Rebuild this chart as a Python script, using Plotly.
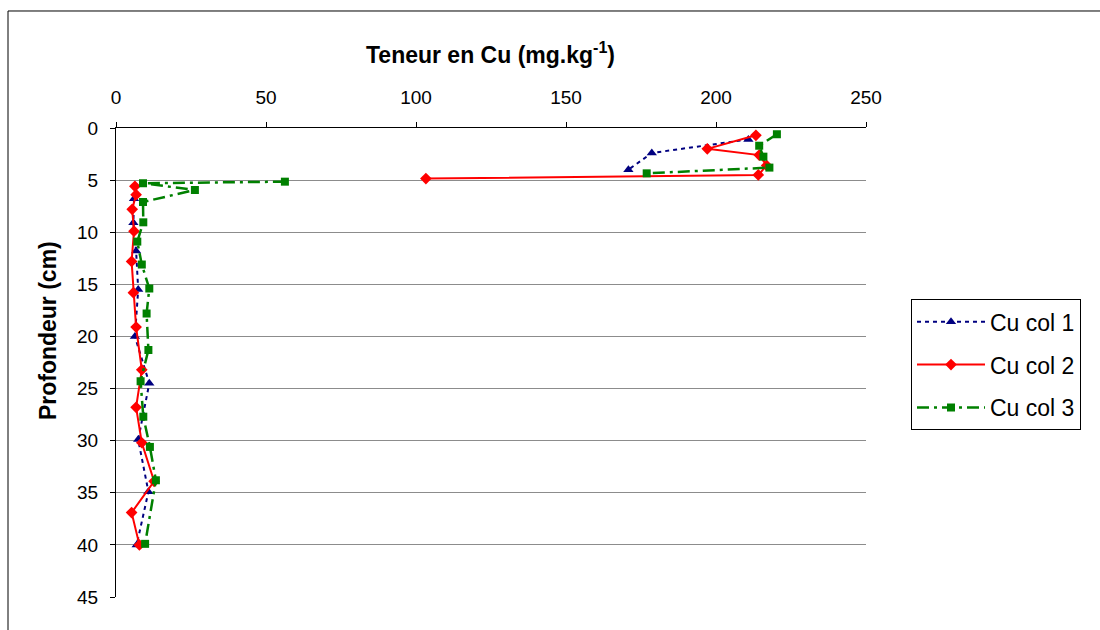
import plotly.graph_objects as go

# Copper content (mg/kg) versus depth (cm) for three soil columns.
# None breaks the line between the surface layer and the deeper profile.
depth_col1 = [1.1, 2.4, 4.0, None, 6.8, 9.1, 11.8, 15.5, 20.0, 24.5, 29.9, 34.9, 40.0]
cu_col1 = [210.8, 178.6, 170.8, None, 6.0, 5.8, 6.7, 7.4, 6.3, 11.1, 7.4, 10.8, 6.9]

depth_col2 = [0.7, 2.0, 2.6, 3.6, 4.5, 4.85, None, 5.6, 6.4, 7.8, 9.9, 12.8, 15.8,
              19.1, 23.2, 26.8, 30.2, 33.9, 36.9, 40.0]
cu_col2 = [213.3, 197.1, 214.4, 216.9, 214.1, 103.3, None, 6.3, 6.7, 5.4, 6.0, 5.2, 5.8,
           6.7, 8.6, 6.7, 8.6, 12.7, 5.2, 7.8]

depth_col3 = [0.6, 1.7, 2.75, 3.8, 4.35, None, 5.15, 5.3, 5.95, 7.1, 9.05, 10.9, 13.1,
              15.4, 17.8, 21.3, 24.3, 27.7, 30.6, 33.8, 39.9]
cu_col3 = [220.3, 214.4, 215.8, 217.8, 176.9, None, 56.3, 9.0, 26.3, 9.0, 9.1, 7.1, 8.6,
           11.1, 10.2, 10.8, 8.2, 9.1, 11.3, 13.3, 9.7]

series_names = ["Cu col 1", "Cu col 2", "Cu col 3"]
x_ticks = [0, 50, 100, 150, 200, 250]
y_ticks = [0, 5, 10, 15, 20, 25, 30, 35, 40, 45]

FONT = "Liberation Sans, Arial, sans-serif"

fig = go.Figure()

fig.add_trace(go.Scatter(
    x=cu_col1, y=depth_col1, name=series_names[0], mode="lines+markers",
    connectgaps=False, legendgroup="a",
    line=dict(color="#000080", width=2, dash="4px,4px"),
    marker=dict(symbol="triangle-up", size=9, color="#000080"),
))
fig.add_trace(go.Scatter(
    x=cu_col2, y=depth_col2, name=series_names[1], mode="lines+markers",
    connectgaps=False, legendgroup="b",
    line=dict(color="#FF0000", width=2),
    marker=dict(symbol="diamond", size=9, color="#FF0000"),
))
fig.add_trace(go.Scatter(
    x=cu_col3, y=depth_col3, name=series_names[2], mode="lines+markers",
    connectgaps=False, legendgroup="c",
    line=dict(color="#008000", width=2.5, dash="12px,5px,3px,5px"),
    marker=dict(symbol="square", size=8, color="#008000"),
))

fig.update_layout(
    width=1100, height=630,
    margin=dict(l=116, r=234, t=128, b=33),
    paper_bgcolor="white", plot_bgcolor="white",
    font=dict(family=FONT, color="black", size=19),
    legend=dict(
        x=1.06, y=0.635, xanchor="left", yanchor="top",
        bordercolor="black", borderwidth=1, bgcolor="white",
        font=dict(family=FONT, size=23, color="black"),
        traceorder="grouped", tracegroupgap=10, itemwidth=68,
    ),
    xaxis=dict(
        side="top", range=[0, 250], tickvals=x_ticks, ticktext=[str(v) for v in x_ticks],
        showgrid=False, zeroline=False, showline=True, linecolor="black", linewidth=1,
        ticks="outside", ticklen=5, tickcolor="black", ticklabelstandoff=10,
        tickfont=dict(size=19),
    ),
    yaxis=dict(
        range=[45, 0], tickvals=y_ticks, ticktext=[str(v) for v in y_ticks],
        showgrid=True, gridcolor="#8c8c8c", gridwidth=1,
        zeroline=False, showline=True, linecolor="black", linewidth=1,
        ticks="outside", ticklen=5, tickcolor="black", ticklabelstandoff=8,
        tickfont=dict(size=19),
    ),
    annotations=[
        dict(text="<b>Teneur en Cu (mg.kg<sup>-1</sup>)</b>", xref="paper", yref="paper",
             x=0.4987, y=1.16, xanchor="center", yanchor="middle", showarrow=False,
             font=dict(family=FONT, size=23)),
        dict(text="<b>Profondeur (cm)</b>", xref="paper", yref="paper",
             x=-0.0907, y=0.569, xanchor="center", yanchor="middle", showarrow=False,
             textangle=-90, font=dict(family=FONT, size=23)),
    ],
    shapes=[
        # outer chart frame
        dict(type="rect", xref="paper", yref="paper",
             x0=-0.144, x1=1.45, y0=-0.25, y1=1.2495,
             line=dict(color="black", width=1), fillcolor="rgba(0,0,0,0)", layer="below"),
    ],
)

fig.write_html("out.html")
